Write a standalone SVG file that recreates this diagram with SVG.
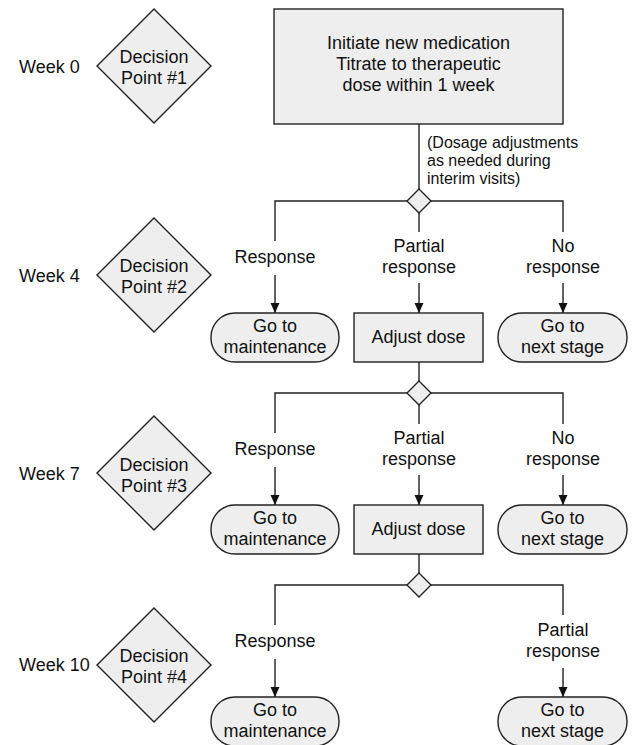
<svg xmlns="http://www.w3.org/2000/svg" width="634" height="745" viewBox="0 0 634 745">
<style>
text{font-family:"Liberation Sans",Arial,sans-serif;font-size:18px;fill:#111;}
.c{text-anchor:middle;}
.s{font-size:16px;}
.shape{fill:#eeeeee;stroke:#222;stroke-width:1.4;}
.ln{fill:none;stroke:#222;stroke-width:1.4;}
</style>
<defs>
<marker id="ah" markerUnits="userSpaceOnUse" markerWidth="10" markerHeight="12" viewBox="0 0 10 12" refX="10" refY="6" orient="auto">
<path d="M0,1.5 L10,6 L0,10.5 Z" fill="#111"/>
</marker>
</defs>
<rect width="634" height="745" fill="#fff"/>

<g id="weeks">
<text x="19" y="73">Week 0</text>
<text x="19" y="282">Week 4</text>
<text x="19" y="480">Week 7</text>
<text x="19" y="671">Week 10</text>
</g>

<g id="dp1"><polygon class="shape" points="154,9 211,66 154,123 97,66"/><text class="c" x="154" y="63">Decision</text><text class="c" x="154" y="84">Point #1</text></g>
<g id="dp2"><polygon class="shape" points="154,218 211,275 154,332 97,275"/><text class="c" x="154" y="272">Decision</text><text class="c" x="154" y="293">Point #2</text></g>
<g id="dp3"><polygon class="shape" points="154,416 211,473 154,530 97,473"/><text class="c" x="154" y="471">Decision</text><text class="c" x="154" y="492">Point #3</text></g>
<g id="dp4"><polygon class="shape" points="154,608 211,665 154,722 97,665"/><text class="c" x="154" y="662">Decision</text><text class="c" x="154" y="683">Point #4</text></g>

<g id="connectors">
<path class="ln" d="M419,124 V189"/>
<path class="ln" d="M275,241 V201 H407 M431,201 H563 V232 M419,213 V232"/>
<path class="ln" d="M419,362 V381"/>
<path class="ln" d="M275,433 V393 H407 M431,393 H563 V424 M419,405 V424"/>
<path class="ln" d="M419,554 V573"/>
<path class="ln" d="M275,625 V585 H407 M431,585 H563 V615"/>
<line class="ln" x1="275" y1="275" x2="275" y2="313" marker-end="url(#ah)"/>
<line class="ln" x1="419" y1="283" x2="419" y2="313" marker-end="url(#ah)"/>
<line class="ln" x1="563" y1="283" x2="563" y2="313" marker-end="url(#ah)"/>
<line class="ln" x1="275" y1="467" x2="275" y2="505" marker-end="url(#ah)"/>
<line class="ln" x1="419" y1="475" x2="419" y2="505" marker-end="url(#ah)"/>
<line class="ln" x1="563" y1="475" x2="563" y2="505" marker-end="url(#ah)"/>
<line class="ln" x1="275" y1="659" x2="275" y2="697" marker-end="url(#ah)"/>
<line class="ln" x1="563" y1="668" x2="563" y2="697" marker-end="url(#ah)"/>
</g>

<g id="start">
<rect class="shape" x="274" y="9" width="289" height="115"/>
<text class="c" x="418.5" y="49">Initiate new medication</text>
<text class="c" x="418.5" y="70">Titrate to therapeutic</text>
<text class="c" x="418.5" y="91">dose within 1 week</text>
</g>
<g id="note">
<text class="s" x="427" y="148">(Dosage adjustments</text>
<text class="s" x="427" y="166">as needed during</text>
<text class="s" x="427" y="184">interim visits)</text>
</g>

<g id="j1"><polygon class="shape" points="419,189 431,201 419,213 407,201"/></g>
<g id="j2"><polygon class="shape" points="419,381 431,393 419,405 407,393"/></g>
<g id="j3"><polygon class="shape" points="419,573 431,585 419,597 407,585"/></g>

<g id="labels">
<text class="c" x="275" y="263">Response</text>
<text class="c" x="419" y="252">Partial</text><text class="c" x="419" y="273">response</text>
<text class="c" x="563" y="252">No</text><text class="c" x="563" y="273">response</text>
<text class="c" x="275" y="455">Response</text>
<text class="c" x="419" y="444">Partial</text><text class="c" x="419" y="465">response</text>
<text class="c" x="563" y="444">No</text><text class="c" x="563" y="465">response</text>
<text class="c" x="275" y="647">Response</text>
<text class="c" x="563" y="636">Partial</text><text class="c" x="563" y="657">response</text>
</g>

<g id="maint1"><rect class="shape" x="211" y="313" width="128" height="49" rx="24" ry="24"/><text class="c" x="275" y="332">Go to</text><text class="c" x="275" y="353">maintenance</text></g>
<g id="adjust1"><rect class="shape" x="354" y="313" width="129" height="49"/><text class="c" x="418.5" y="343">Adjust dose</text></g>
<g id="next1"><rect class="shape" x="498" y="313" width="129" height="49" rx="24" ry="24"/><text class="c" x="562.5" y="332">Go to</text><text class="c" x="562.5" y="353">next stage</text></g>

<g id="maint2"><rect class="shape" x="211" y="505" width="128" height="49" rx="24" ry="24"/><text class="c" x="275" y="524">Go to</text><text class="c" x="275" y="545">maintenance</text></g>
<g id="adjust2"><rect class="shape" x="354" y="505" width="129" height="49"/><text class="c" x="418.5" y="535">Adjust dose</text></g>
<g id="next2"><rect class="shape" x="498" y="505" width="129" height="49" rx="24" ry="24"/><text class="c" x="562.5" y="524">Go to</text><text class="c" x="562.5" y="545">next stage</text></g>

<g id="maint3"><rect class="shape" x="211" y="697" width="128" height="49" rx="24" ry="24"/><text class="c" x="275" y="716">Go to</text><text class="c" x="275" y="737">maintenance</text></g>
<g id="next3"><rect class="shape" x="498" y="697" width="129" height="49" rx="24" ry="24"/><text class="c" x="562.5" y="716">Go to</text><text class="c" x="562.5" y="737">next stage</text></g>
</svg>
